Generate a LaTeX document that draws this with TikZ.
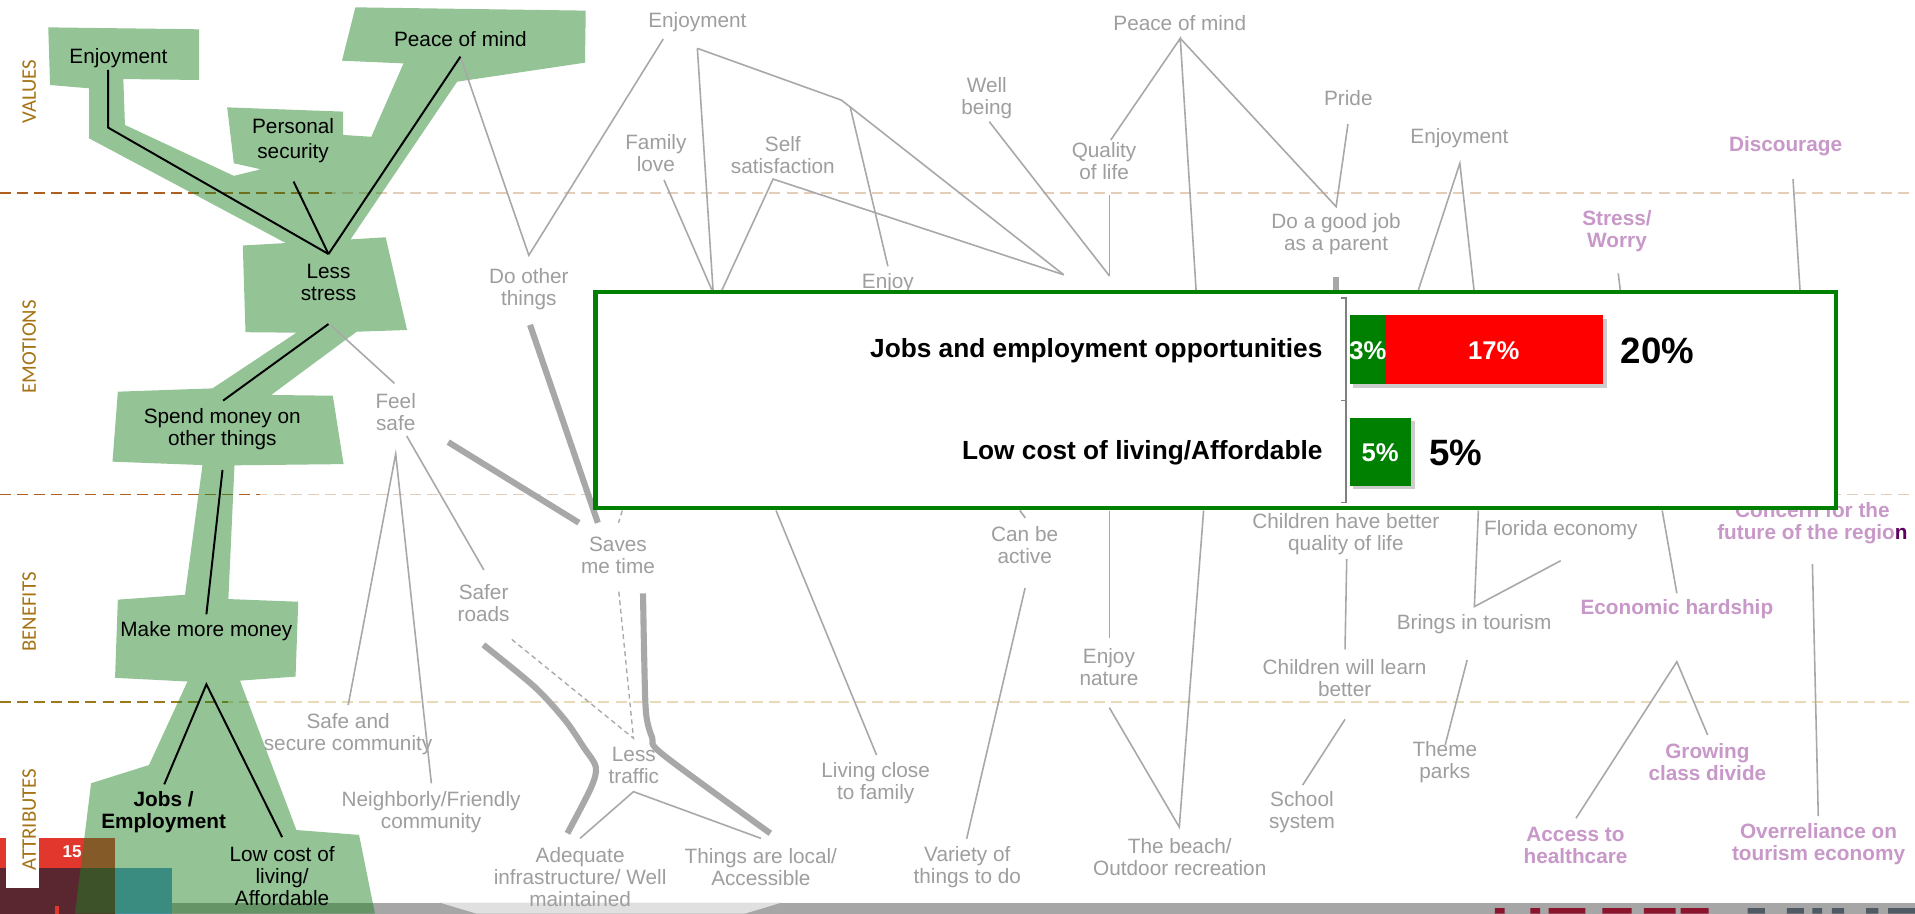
\documentclass[tikz,border=0pt]{standalone}
\usepackage{fontspec}
\setmainfont{Liberation Sans}
\newfontfamily\stagefont{Carlito}
\usetikzlibrary{positioning}
\definecolor{goalgreen}{RGB}{32,130,36}
\definecolor{linkgray}{RGB}{168,168,168}
\definecolor{textgray}{RGB}{158,158,158}
\definecolor{mauve}{RGB}{200,152,200}
\definecolor{plum}{RGB}{95,0,95}
\definecolor{stagegold}{RGB}{166,115,20}
\definecolor{dashdark}{RGB}{176,96,30}
\definecolor{dashlight}{RGB}{230,205,184}
\definecolor{dasholive}{RGB}{156,122,28}
\definecolor{dashsand}{RGB}{232,218,181}
\definecolor{boxgreen}{RGB}{0,128,0}
\definecolor{slidered}{RGB}{225,55,45}
\definecolor{slidemaroon}{RGB}{90,38,48}
\definecolor{slideblue}{RGB}{82,149,213}
\definecolor{logored}{RGB}{140,20,45}
\definecolor{logogray}{RGB}{80,90,100}
\tikzstyle{every node}=[font=\fontsize{17}{18}\selectfont,align=center,inner sep=1pt]
\tikzstyle{goal}=[text=black]
\tikzstyle{grey}=[text=textgray]
\tikzstyle{worry}=[text=mauve,font=\fontsize{17}{18}\selectfont\bfseries]
\tikzstyle{stage}=[rotate=90,text=stagegold,font=\stagefont\fontsize{17}{18}\selectfont]
\tikzstyle{link}=[linkgray,line width=1.3pt]
\tikzstyle{fatlink}=[linkgray,line width=5pt]
\tikzstyle{dashlink}=[linkgray,line width=1.1pt,dash pattern=on 4pt off 3pt]
\tikzstyle{keylink}=[black,line width=1.6pt]
\tikzstyle{divider}=[line width=1.3pt,dash pattern=on 9pt off 5pt]
\tikzstyle{cat}=[anchor=east,font=\fontsize{21.5}{22}\selectfont\bfseries]
\tikzstyle{barval}=[text=white,font=\fontsize{21}{22}\selectfont\bfseries]
\tikzstyle{total}=[font=\fontsize{30}{30}\selectfont\bfseries]

\begin{document}
\begin{tikzpicture}[x=1pt,y=-1pt]
\useasboundingbox (0,0) rectangle (1568,748);
\fill[white] (0,0) rectangle (1568,748);

% level dividers
\draw[divider,dashlight] (0,158) -- (1568,158);
\draw[divider,dashdark] (0,158) -- (272,158);
\draw[divider,dashlight] (0,405) -- (1568,405);
\draw[divider,dashdark] (0,405) -- (213,405);
\draw[divider,dashsand] (0,575) -- (1568,575);
\draw[divider,dasholive] (0,575) -- (187,575);

% footer
\fill[black!35] (0,739) rectangle (1568,748);
\fill[black!12] (360,739) -- (640,739) -- (610,748) -- (390,748) -- cycle;
% logo (only the tops of the letters show)
\fill[logored] (1224,743.5) rectangle (1232,748) (1253,743.5) rectangle (1261,748)
  (1268,743.5) rectangle (1298,748) (1312,743.5) rectangle (1336,748)
  (1346,743.5) rectangle (1372,748) (1376,743.5) rectangle (1399,748);
\fill[logogray] (1431,743.5) rectangle (1445,748) (1463,743.5) rectangle (1477,748)
  (1484,743.5) rectangle (1492,748) (1500,743.5) rectangle (1510,748)
  (1528,743.5) rectangle (1538,748) (1546,743.5) rectangle (1568,748);

% slide number corner
\fill[slidered] (0,686) rectangle (94,711);
\fill[slidemaroon] (0,711) rectangle (94,748);
\fill[slideblue] (94,711) rectangle (141,748);
\fill[white] (5,686) rectangle (32,727);
\fill[slidered] (45,742) rectangle (48,748);
\node[text=white,font=\fontsize{14}{14}\selectfont\bfseries] (pageno) at (59,697) {15};

% highlighted ladder
\fill[goalgreen,fill opacity=0.48]
 (39.5,22.4) -- (163,24) -- (163,65.5) -- (101,64.7) -- (102.3,102.3)
 -- (191.5,144) -- (213.5,138.6) -- (191.5,133.7) -- (186,87.9) -- (281,91.4)
 -- (281,110.5) -- (304,112) -- (330.4,51.9) -- (280,49.7) -- (291,6)
 -- (479.6,8.7) -- (479,51.3) -- (374.3,66.9) -- (287,196) -- (315.8,194.3)
 -- (333.3,270.2) -- (292,271.6) -- (222,323.4) -- (272.5,324) -- (281.3,380)
 -- (192,381) -- (187,490.5) -- (244.2,492.7) -- (242,554) -- (196.5,557.3)
 -- (242.7,679.6) -- (294,683.6) -- (307,748) -- (61.4,748) -- (74.6,641.3)
 -- (122,626.4) -- (153.5,558) -- (94.2,555) -- (96.5,491) -- (151.5,487)
 -- (165.8,380.8) -- (92.1,378) -- (96.5,320.7) -- (174,318) -- (242.7,272.4)
 -- (201,272) -- (198.8,201) -- (234,199) -- (73,113.3) -- (73,72.3)
 -- (41,69.6) -- cycle;

% stage labels
\node[stage] (values) at (24,75) {VALUES};
\node[stage] (emotions) at (24,284) {EMOTIONS};
\node[stage] (benefits) at (24,501) {BENEFITS};
\node[stage] (attributes) at (24,671) {ATTRIBUTES};

% ladder nodes
\node[goal] (enj_g) at (97,48) {Enjoyment};
\node[goal] (pom_g) at (377,32) {Peace of mind};
\node[goal] (sec_g) at (240,115) {Personal\\[2pt]security};
\node[goal] (less_g) at (269,231) {Less\\stress};
\node[goal] (spend_g) at (182,351) {Spend money on\\other things};
\node[goal] (money_g) at (169,517) {Make more money};
\node[goal,font=\fontsize{17}{18}\selectfont\bfseries] (jobs_g) at (134,665) {Jobs /\\Employment};
\node[goal] (cost_g) at (231,717) {Low cost of\\living/\\Affordable};

% other nodes
\node[grey] (enj_1) at (571,18) {Enjoyment};
\node[grey] (pom_1) at (966,19) {Peace of mind};
\node[grey] (well) at (808,80) {Well\\being};
\node[grey] (pride) at (1104,80) {Pride};
\node[grey] (family) at (537,125) {Family\\love};
\node[grey] (selfsat) at (641,127) {Self\\satisfaction};
\node[grey] (quality) at (904,132) {Quality\\of life};
\node[grey] (enj_2) at (1195,113) {Enjoyment};
\node[worry] (discourage) at (1462,120) {Discourage};
\node[grey] (parent) at (1094,192) {Do a good job\\as a parent};
\node[worry] (stress) at (1324,189) {Stress/\\Worry};
\node[grey] (doother) at (433,237) {Do other\\things};
\node[grey] (enjoy) at (727,232) {Enjoy};
\node[grey] (feelsafe) at (324,337) {Feel\\safe};
\node[grey] (saves) at (506,455) {Saves\\me time};
\node[grey] (active) at (839,446) {Can be\\active};
\node[grey] (kidslife) at (1102,437) {Children have better\\quality of life};
\node[grey] (florida) at (1278,434) {Florida economy};
\node[worry] (concern) at (1484,428) {Concern for the\\future of the regio{\color{plum}n}};
\node[grey] (roads) at (396,494) {Safer\\roads};
\node[grey] (tourism) at (1207,511) {Brings in tourism};
\node[worry] (hardship) at (1373,499) {Economic hardship};
\node[grey] (nature) at (908,546) {Enjoy\\nature};
\node[grey] (kidslearn) at (1101,555) {Children will learn\\better};
\node[grey] (secure) at (285,601) {Safe and\\secure community};
\node[grey] (traffic) at (519,627) {Less\\traffic};
\node[grey] (closefam) at (717,641) {Living close\\to family};
\node[grey] (parks) at (1183,624) {Theme\\parks};
\node[worry] (divide) at (1398,624) {Growing\\class divide};
\node[grey] (friendly) at (353,665) {Neighborly/Friendly\\community};
\node[grey] (school) at (1066,665) {School\\system};
\node[grey] (infra) at (475,718) {Adequate\\infrastructure/ Well\\maintained};
\node[grey] (local) at (623,710) {Things are local/\\Accessible};
\node[grey] (variety) at (792,710) {Variety of\\things to do};
\node[grey] (beach) at (966,702) {The beach/\\Outdoor recreation};
\node[worry] (health) at (1290,692) {Access to\\healthcare};
\node[worry] (overrel) at (1489,691) {Overreliance on\\tourism economy};

% connection points
\coordinate (enjg_b) at (88.6,57.3);
\coordinate (enjg_k) at (88.6,104.5);
\coordinate (pomg_b) at (377,46.4);
\coordinate (secg_b) at (240.4,148.7);
\coordinate (lessg_t) at (269,208);
\coordinate (lessg_b) at (269,265.3);
\coordinate (spendg_t) at (182.7,328);
\coordinate (spendg_b) at (182.2,384.8);
\coordinate (moneyg_t) at (169,503);
\coordinate (moneyg_b) at (169,560.3);
\coordinate (jobsg_t) at (134.5,642.2);
\coordinate (costg_t) at (231,685.4);

\coordinate (doother_t) at (433,209);
\coordinate (enj1_l) at (543,32);
\coordinate (enj1_b) at (571,39.6);
\coordinate (enj1_k) at (689,82);
\coordinate (enj1_k2) at (696,87);
\coordinate (family_b) at (543.7,147.4);
\coordinate (selfsat_b) at (633,146.6);
\coordinate (hid_a) at (584,240);
\coordinate (hid_b) at (590,240);
\coordinate (enjoy_t) at (727,218);
\coordinate (hid_c) at (871,225);
\coordinate (well_b) at (810,99.6);
\coordinate (hid_d) at (908.5,226);
\coordinate (quality_b) at (908.5,159.7);
\coordinate (quality_t) at (909.5,114.6);
\coordinate (pom1_b) at (966.4,31.4);
\coordinate (hid_e) at (979.5,240);
\coordinate (parent_t) at (1094,169.2);
\coordinate (pride_b) at (1103.7,101.5);
\coordinate (parent_b) at (1094,226.5);
\coordinate (hid_f) at (1094,240);
\coordinate (enj2_b) at (1195.3,133.7);
\coordinate (hid_g) at (1160.5,240);
\coordinate (hid_h) at (1207.2,240);
\coordinate (stress_b) at (1325,223.8);
\coordinate (hid_i) at (1327,240);
\coordinate (discourage_b) at (1468.1,146.6);
\coordinate (hid_j) at (1474,240);

\coordinate (lessg_r) at (270.5,266);
\coordinate (feelsafe_t) at (323,313.9);
\coordinate (feelsafe_b) at (324,371.7);
\coordinate (feelsafe_r) at (333,357);
\coordinate (feelsafe_rr) at (367,362);
\coordinate (secure_t) at (285.1,577.3);
\coordinate (friendly_t) at (353.2,641.4);
\coordinate (roads_t) at (396.2,466.7);
\coordinate (doother_b) at (434,266);
\coordinate (saves_tl) at (474,428);
\coordinate (saves_tr) at (489.5,428);
\coordinate (saves_t) at (506.5,428);
\coordinate (hid_k) at (509.5,418);
\coordinate (saves_b) at (506.7,484.5);
\coordinate (roads_b) at (419,523.5);
\coordinate (traffic_t) at (518.7,604.5);
\coordinate (traffic_b) at (518.7,648.2);
\coordinate (infra_t) at (475,686.4);
\coordinate (local_t) at (623,686.4);
\coordinate (roads_bl) at (395.8,528);
\coordinate (infra_tl) at (464.6,682.3);
\coordinate (saves_br) at (526.5,485.8);
\coordinate (local_tr) at (630.7,682.3);
\coordinate (hid_l) at (635.4,418);
\coordinate (closefam_t) at (717.7,618.2);
\coordinate (hid_m) at (835,418);
\coordinate (active_t) at (839.5,424);
\coordinate (active_b) at (839.3,481.6);
\coordinate (variety_t) at (791.5,686.7);
\coordinate (hid_n) at (908.3,418);
\coordinate (nature_t) at (908.3,522.2);
\coordinate (nature_b) at (908.3,579.4);
\coordinate (beach_t) at (965.6,677.2);
\coordinate (hid_o) at (985.5,418);
\coordinate (kidslife_b) at (1102.7,457.7);
\coordinate (kidslearn_t) at (1101.3,531.7);
\coordinate (kidslearn_b) at (1101.3,589);
\coordinate (school_t) at (1066.6,642.8);
\coordinate (hid_p) at (1210.5,418);
\coordinate (tourism_t) at (1207.2,496.7);
\coordinate (florida_b) at (1277.9,459.1);
\coordinate (tourism_b) at (1201.3,540.4);
\coordinate (parks_t) at (1183.3,610);
\coordinate (hid_q) at (1361,418);
\coordinate (hardship_t) at (1373,485.8);
\coordinate (hardship_b) at (1373,541.8);
\coordinate (health_t) at (1290.4,670);
\coordinate (divide_t) at (1398.2,601.8);
\coordinate (concern_b) at (1484,461.8);
\coordinate (overrel_t) at (1488.8,668.2);

% grey links
\draw[link] (pomg_b) -- (doother_t) -- (enj1_l);
\draw[link] (enj1_b) -- (hid_a);
\draw[link] (enj1_b) -- (enj1_k) -- (hid_c);
\draw[link] (enj1_k2) -- (enjoy_t);
\draw[link] (family_b) -- (hid_a);
\draw[link] (hid_b) -- (selfsat_b) -- (hid_c);
\draw[link] (well_b) -- (hid_d);
\draw[link] (quality_b) -- (hid_d);
\draw[link] (quality_t) -- (pom1_b) -- (hid_e);
\draw[link] (pom1_b) -- (parent_t) -- (pride_b);
\draw[linkgray,line width=5pt] (parent_b) -- (hid_f);
\draw[link] (hid_g) -- (enj2_b) -- (hid_h);
\draw[link] (stress_b) -- (hid_i);
\draw[link] (discourage_b) -- (hid_j);

\draw[link] (lessg_r) -- (feelsafe_t);
\draw[link] (secure_t) -- (feelsafe_b) -- (friendly_t);
\draw[link] (feelsafe_r) -- (roads_t);
\draw[fatlink] (doother_b) -- (saves_tr);
\draw[fatlink] (feelsafe_rr) -- (saves_tl);
\draw[dashlink] (hid_k) -- (saves_t);
\draw[dashlink] (saves_b) -- (traffic_t) -- (roads_b);
\draw[fatlink] plot[smooth,tension=0.5] coordinates {(roads_bl) (437.6,562.3) (462.6,589.5) (478,612) (487.8,628) (483.9,645) (infra_tl)};
\draw[fatlink] plot[smooth,tension=0.5] coordinates {(saves_br) (527.5,540) (529,584) (534,604) (543,618) (local_tr)};
\draw[link] (infra_t) -- (traffic_b) -- (local_t);
\draw[link] (hid_l) -- (closefam_t);
\draw[link] (hid_m) -- (active_t);
\draw[link] (active_b) -- (variety_t);
\draw[link] (hid_n) -- (nature_t);
\draw[link] (nature_b) -- (beach_t) -- (hid_o);
\draw[link] (kidslife_b) -- (kidslearn_t);
\draw[link] (kidslearn_b) -- (school_t);
\draw[link] (hid_p) -- (tourism_t) -- (florida_b);
\draw[link] (tourism_b) -- (parks_t);
\draw[link] (hid_q) -- (hardship_t);
\draw[link] (health_t) -- (hardship_b) -- (divide_t);
\draw[link] (concern_b) -- (overrel_t);

% ladder links
\draw[keylink] (enjg_b) -- (enjg_k) -- (lessg_t);
\draw[keylink] (secg_b) -- (lessg_t);
\draw[keylink] (pomg_b) -- (lessg_t);
\draw[keylink] (lessg_b) -- (spendg_t);
\draw[keylink] (spendg_b) -- (moneyg_t);
\draw[keylink] (jobsg_t) -- (moneyg_b) -- (costg_t);

% callout with bar chart
\draw[boxgreen,line width=3.5pt,fill=white] (487.5,239) rectangle (1503.5,416);
\draw[black!50,line width=1pt] (1098,244) -- (1102,244) -- (1102,411.6) -- (1098,411.6);
\draw[black!50,line width=1pt] (1098,328) -- (1102,328);
\fill[black!20] (1108,261) rectangle (1315.4,317.4);
\fill[black!20] (1108,345) rectangle (1158.7,400.7);
\fill[boxgreen] (1105,258) rectangle (1134.7,314.4);
\fill[red] (1134.7,258) rectangle (1312.4,314.4);
\fill[boxgreen] (1105,342) rectangle (1155.7,397.7);
\node[cat] (jobs_c) at (1084,287) {Jobs and employment opportunities};
\node[cat] (cost_c) at (1084,371) {Low cost of living/Affordable};
\node[barval] (jobs_v1) at (1120,287) {3\%};
\node[barval] (jobs_v2) at (1223,287) {17\%};
\node[barval] (cost_v1) at (1130,371) {5\%};
\node[total] (jobs_t) at (1357,287) {20\%};
\node[total] (cost_t) at (1192,371) {5\%};
\end{tikzpicture}
\end{document}
